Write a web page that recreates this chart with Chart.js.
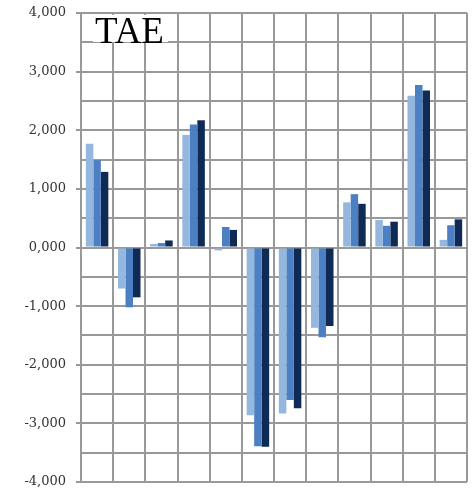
<!DOCTYPE html>
<html>
<head>
<meta charset="utf-8">
<script src="https://cdn.jsdelivr.net/npm/chart.js@4/dist/chart.umd.min.js"></script>
<style>
html,body{margin:0;padding:0;background:#fff;}
#wrap{width:475px;height:489px;position:relative;}
</style>
</head>
<body>
<div id="wrap"><canvas id="c"></canvas></div>
<script>
const categories = ['1','2','3','4','5','6','7','8','9','10','11','12'];
const series1 = [1770, -700, 60, 1920, -50, -2860, -2830, -1370, 770, 470, 2590, 130];
const series2 = [1490, -1020, 75, 2100, 350, -3390, -2600, -1530, 910, 370, 2770, 380];
const series3 = [1290, -850, 120, 2170, 300, -3400, -2740, -1340, 745, 440, 2680, 480];
const yTicks = [-4000, -3000, -2000, -1000, 0, 1000, 2000, 3000, 4000];
const titleText = 'TAE';

const gridColor = '#999999';

function fmt(v){
  const a = Math.abs(v)/1000;
  return (v < 0 ? '-' : '') + a + ',000';
}

const extras = {
  id: 'extras',
  afterDraw(chart){
    const ctx = chart.ctx, y = chart.scales.y, area = chart.chartArea;
    ctx.save();
    ctx.fillStyle = gridColor;
    yTicks.forEach(v => {
      const py = Math.round(y.getPixelForValue(v));
      ctx.fillRect(area.left - 5, py - 1, 5, 2);
    });
    ctx.font = '37px "Liberation Serif", serif';
    const w = ctx.measureText(titleText).width;
    ctx.fillStyle = '#fff';
    ctx.fillRect(area.left + 12, area.top + 2, w + 6, 27);
    ctx.fillStyle = '#000';
    ctx.textBaseline = 'alphabetic';
    ctx.fillText(titleText, area.left + 14, area.top + 30);
    ctx.restore();
  }
};

new Chart(document.getElementById('c'), {
  type: 'bar',
  data: {
    labels: categories,
    datasets: [
      {label: 'Series 1', data: series1, backgroundColor: '#93b7de'},
      {label: 'Series 2', data: series2, backgroundColor: '#4c80c2'},
      {label: 'Series 3', data: series3, backgroundColor: '#0e2a55'}
    ]
  },
  options: {
    responsive: true,
    maintainAspectRatio: false,
    animation: false,
    layout: {padding: {top: 13, bottom: 7, right: 8, left: 0}},
    plugins: {legend: {display: false}, tooltip: {enabled: false}, title: {display: false}},
    datasets: {bar: {categoryPercentage: 0.7, barPercentage: 1.0}},
    scales: {
      x: {
        ticks: {display: false},
        grid: {color: gridColor, lineWidth: 2, drawTicks: false, offset: true},
        border: {display: false}
      },
      y: {
        min: -4000, max: 4000,
        afterFit(s){ s.width = 81; s.paddingTop = 0; s.paddingBottom = 0; },
        ticks: {
          stepSize: 500,
          autoSkip: false,
          padding: 15,
          color: '#333',
          font: {family: '"DejaVu Serif", serif', size: 13},
          callback: (v) => (v % 1000 === 0 ? fmt(v) : '')
        },
        grid: {color: gridColor, lineWidth: 2, drawTicks: false},
        border: {display: true, color: gridColor, width: 2}
      }
    }
  },
  plugins: [extras]
});
</script>
</body>
</html>
